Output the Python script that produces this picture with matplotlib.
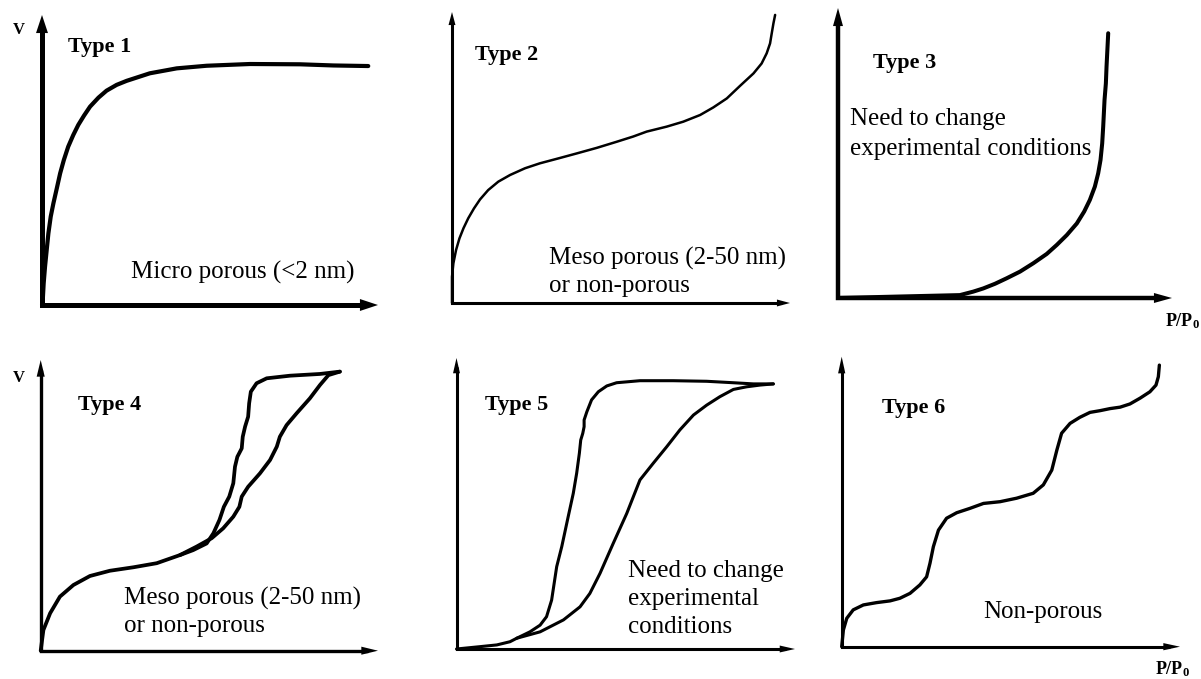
import matplotlib
matplotlib.use("Agg")
import matplotlib.pyplot as plt

plt.rcParams["font.family"] = ["Liberation Serif", "DejaVu Serif"]
plt.rcParams["mathtext.fontset"] = "custom"
plt.rcParams["mathtext.rm"] = "Liberation Serif"
plt.rcParams["mathtext.bf"] = "Liberation Serif:bold"

W, H = 1201, 679

# Isotherm shapes: relative pressure (% of x axis) vs adsorbed volume (% of y axis)
t1_p = [0, 0.2, 0.5, 0.9, 1.4, 1.9, 2.6, 3.4, 4.4, 5.4, 6.5, 7.8, 9.3, 10.8, 12.5, 14.3, 16.8,
        19.2, 22.2, 25.2, 32.1, 40.1, 49.0, 61.9, 76.8, 86.7, 97.1]
t1_v = [0, 1.1, 7.5, 13.2, 19.0, 24.7, 30.5, 35.1, 40.2, 45.4, 50.0, 54.6, 58.6, 62.1, 65.3, 68.4,
        71.5, 73.9, 75.9, 77.3, 79.9, 81.6, 82.5, 83.1, 83.0, 82.6, 82.4]

t2_p = [0, 0, 0.4, 1.2, 2.2, 3.4, 4.8, 6.5, 8.3, 10.7, 13.7, 17.2, 21.6, 26.0, 31.5, 36.9, 42.8,
        48.7, 53.6, 57.6, 63.5, 68.4, 73.4, 77.3, 81.3, 85.2, 89.2, 91.6, 93.1, 94.1, 94.6, 95.1, 95.6]
t2_v = [0, 9.0, 13.6, 18.2, 22.2, 25.7, 29.1, 32.5, 35.6, 38.8, 41.7, 44.0, 46.3, 48.0, 49.7, 51.4,
        53.3, 55.4, 57.2, 58.9, 60.6, 62.3, 64.6, 67.2, 70.3, 74.6, 78.9, 82.3, 85.8, 89.2, 92.7,
        96.1, 99.0]

t3_p = [0, 18, 36.5, 40.5, 43.5, 47.0, 50.5, 54.5, 58.5, 62.5, 65.5, 68.5, 71.5, 73.7, 75.4, 76.9,
        77.9, 78.6, 79.1, 79.4, 79.8, 80.2, 80.4, 80.6, 80.9]
t3_v = [0, 0.5, 1.0, 2.2, 3.3, 4.9, 6.8, 9.1, 12.0, 15.2, 18.3, 21.7, 25.7, 29.8, 33.8, 38.4,
        43.0, 47.6, 53.3, 59.1, 68.3, 74.0, 79.8, 84.4, 91.3]

# type 4: adsorption branch from origin, desorption branch from the top back down
t4_ads_p = [0, 0.8, 2.8, 5.7, 9.7, 14.6, 20.5, 27.5, 34.4, 41.3, 46.2, 50.7, 54.1, 57.1, 58.9,
            59.6, 61.5, 65.0, 68.0, 70.0, 70.9, 72.9, 75.9, 79.8, 82.8, 85.3, 88.7]
t4_ads_v = [0, 7.1, 12.9, 18.6, 22.6, 25.7, 27.5, 28.7, 30.1, 32.9, 35.8, 38.7, 42.1, 46.1, 49.5,
            53.0, 56.4, 61.0, 65.6, 70.2, 73.6, 77.6, 81.7, 86.8, 91.4, 94.8, 96.0]
t4_des_p = [88.7, 82.8, 73.9, 67.0, 64.0, 62.3, 61.8, 61.5, 60.6, 59.9, 59.6, 58.3, 57.6, 57.1,
            55.9, 54.3, 53.0, 51.2, 49.2, 45.2, 41.3]
t4_des_v = [96.0, 95.2, 94.6, 93.7, 92.0, 89.1, 85.1, 80.5, 77.1, 73.6, 69.6, 66.7, 63.3, 57.6,
            53.0, 49.5, 45.0, 40.4, 36.9, 34.6, 32.9]

# type 5: same layout as type 4
t5_ads_p = [0, 6.9, 11.9, 15.8, 17.8, 24.7, 31.6, 36.5, 39.4, 42.4, 46.3, 50.3, 54.2, 58.1, 62.1,
            66.0, 70.0, 73.9, 77.8, 81.8, 85.7, 89.7, 93.6]
t5_ads_v = [0, 0.8, 1.4, 2.5, 3.7, 5.9, 10.0, 14.5, 19.1, 26.0, 36.3, 46.6, 58.1, 63.8, 69.5,
            75.3, 80.4, 83.8, 86.7, 89.2, 90.1, 90.7, 91.1]
t5_des_p = [93.6, 87.7, 81.8, 73.9, 64.0, 54.2, 47.3, 44.4, 41.9, 39.9, 38.5, 37.7, 37.7, 37.3,
            36.7, 36.3, 35.5, 34.5, 33.0, 31.1, 29.6, 28.1, 26.6, 24.7, 21.7, 17.8]
t5_des_v = [91.1, 91.1, 91.5, 92.0, 92.2, 92.2, 91.5, 90.4, 88.4, 85.6, 81.5, 78.7, 76.4, 74.1,
            71.8, 67.3, 60.4, 53.5, 45.5, 35.2, 28.3, 16.8, 11.1, 8.2, 5.9, 3.7]

t6_p = [0, 0.5, 1.5, 3.4, 6.4, 10.3, 14.3, 17.2, 20.2, 23.1, 25.1, 26.1, 27.1, 28.6, 31.0, 34.0,
        37.9, 41.9, 46.8, 51.7, 56.6, 59.6, 62.1, 63.6, 65.0, 67.5, 70.4, 73.4, 76.4, 79.3, 82.3,
        85.2, 88.2, 91.1, 92.9, 93.6, 93.9]
t6_v = [0, 5.8, 9.8, 12.7, 14.4, 15.2, 15.8, 16.7, 18.4, 21.3, 24.1, 28.8, 34.5, 40.2, 44.3, 46.2,
        47.7, 49.4, 50.0, 51.2, 52.9, 55.8, 60.9, 67.8, 73.6, 77.0, 79.1, 80.8, 81.4, 82.1, 82.6,
        83.7, 85.7, 87.9, 90.2, 93.1, 97.1]

fig = plt.figure(figsize=(W / 100, H / 100), dpi=100)


def panel(ox, oy, xw, yh, axis_lw, head_len, head_w):
    # one isotherm box: origin at (ox, oy) pixels, arrows xw / yh pixels long
    ax = fig.add_axes([ox / W, 1 - oy / H, xw / W, yh / H])
    ax.set_xlim(0, 100)
    ax.set_ylim(0, 100)
    ax.axis("off")
    # shafts stop under the heads so the tips stay sharp
    sx = 100 - 0.6 * head_len / 0.72 / xw * 100
    sy = 100 - 0.6 * head_len / 0.72 / yh * 100
    ax.plot([sx, 0, 0], [0, 0, sy], color="k", lw=axis_lw, solid_joinstyle="miter",
            solid_capstyle="butt", clip_on=False)
    style = "-|>,head_length=%g,head_width=%g" % (head_len, head_w)
    for end in [(100, 0), (0, 100)]:
        ax.annotate("", xy=end, xytext=(0, 0), annotation_clip=False,
                    arrowprops=dict(arrowstyle=style, lw=0, color="k", fc="k",
                                    shrinkA=0, shrinkB=0, mutation_scale=1))
    return ax


def curve(ax, p, v, lw):
    ax.plot(p, v, color="k", lw=lw, solid_joinstyle="round", solid_capstyle="round", clip_on=False)


def title(ax, x, y, s):
    ax.text(x, y, s, fontsize=16, fontweight="bold", va="baseline", ha="left")


def note(ax, x, ys, lines):
    for y, s in zip(ys, lines):
        ax.text(x, y, s, fontsize=18, va="baseline", ha="left")


# Type 1
ax1 = panel(42, 305, 336, 290, 3.6, 13, 4.3)
curve(ax1, t1_p, t1_v, 3.0)
title(ax1, 7.7, 87.3, "Type 1")
ax1.text(-6.8, 94.8, "V", fontsize=12, fontweight="bold", ha="center", va="center")
note(ax1, 26.5, [9.2], ["Micro porous (<2 nm)"])

# Type 2
ax2 = panel(452, 303, 338, 291, 2.2, 9.4, 2.5)
curve(ax2, t2_p, t2_v, 1.8)
title(ax2, 6.8, 83.5, "Type 2")
note(ax2, 28.8, [13.1, 3.9], ["Meso porous (2-50 nm)", "or non-porous"])

# Type 3
ax3 = panel(838, 298, 334, 290, 3.2, 13, 3.6)
curve(ax3, t3_p, t3_v, 2.9)
title(ax3, 10.6, 79.2, "Type 3")
note(ax3, 3.6, [59.7, 49.3], ["Need to change", "experimental conditions"])
ax3.text(97.9, -9.7, r"$\mathbf{P/P_0}$", fontsize=13, va="baseline", ha="left")

# Type 4
ax4 = panel(40.7, 650.7, 337.3, 290.7, 2.4, 12, 2.9)
curve(ax4, t4_ads_p, t4_ads_v, 2.7)
curve(ax4, t4_des_p, t4_des_v, 2.7)
title(ax4, 11.1, 82.8, "Type 4")
ax4.text(-6.4, 93.8, "V", fontsize=12, fontweight="bold", ha="center", va="center")
note(ax4, 24.7, [15.7, 6.5], ["Meso porous (2-50 nm)", "or non-porous"])

# Type 5
ax5 = panel(456.5, 649, 338.5, 291, 2.2, 11, 2.5)
curve(ax5, t5_ads_p, t5_ads_v, 2.2)
curve(ax5, t5_des_p, t5_des_v, 2.2)
title(ax5, 8.4, 82.1, "Type 5")
note(ax5, 50.8, [24.8, 15.1, 5.4], ["Need to change", "experimental", "conditions"])

# Type 6
ax6 = panel(841.7, 646.7, 338.3, 290, 2.2, 12, 2.6)
curve(ax6, t6_p, t6_v, 2.4)
title(ax6, 11.8, 80.5, "Type 6")
note(ax6, 41.7, [9.8], ["Non-porous"])
ax6.text(92.6, -9.4, r"$\mathbf{P/P_0}$", fontsize=13, va="baseline", ha="left")

fig.savefig("out.png", dpi=100, facecolor="white")
